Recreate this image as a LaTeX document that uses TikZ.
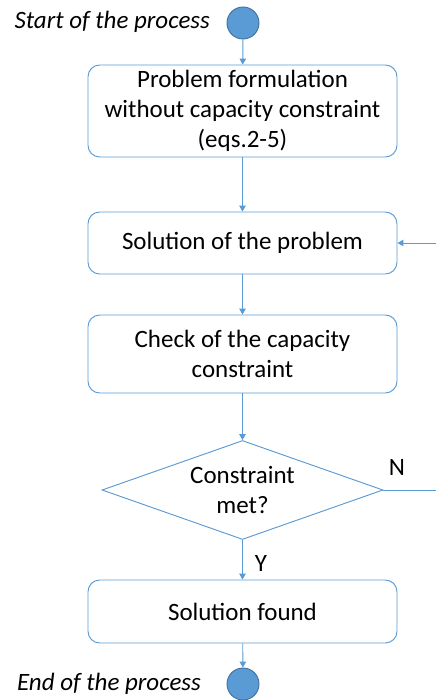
\documentclass[tikz,border=0pt]{standalone}
\usepackage{fontspec}
\setmainfont{Carlito}
\usetikzlibrary{positioning, arrows.meta, shapes.geometric}
\definecolor{FlowBlue}{HTML}{5B9BD5}
\definecolor{FlowEdge}{HTML}{41719C}
\tikzset{
    procbox/.style={rectangle, rounded corners=10pt, draw=FlowBlue, fill=white, align=center, minimum width=9.27cm, font=\fontsize{21.3}{25.6}\selectfont, line width=0.8pt},
    decision/.style={diamond, draw=FlowBlue, fill=white, align=center, minimum width=8.43cm, minimum height=2.97cm, aspect=2.84, inner sep=0pt, font=\fontsize{21.3}{25.6}\selectfont, line width=0.8pt},
    terminal/.style={circle, draw=FlowEdge, fill=FlowBlue, minimum size=0.96cm, inner sep=0pt, line width=0.8pt},
    flowarr/.style={-{Triangle[length=5pt, width=5.5pt]}, draw=FlowBlue, line width=0.8pt},
    flowline/.style={draw=FlowBlue, line width=0.8pt},
    termlbl/.style={font=\fontsize{21.3}{25.6}\selectfont\itshape},
    branchlbl/.style={font=\fontsize{21.3}{25.6}\selectfont}
}

\begin{document}
\begin{tikzpicture}[x=0.03cm, y=-0.03cm]
    \useasboundingbox (0,0) rectangle (436,700);

    % --- START ---
    \node[terminal] (start) at (243, 23) {};
    \node[termlbl, anchor=east] (startlbl) at (214, 22) {Start of the process};

    % --- PROCESS STEPS ---
    \node[procbox, minimum height=2.76cm] (formul) at (242.5, 111) {Problem formulation\\without capacity constraint\\(eqs.2-5)};
    \node[procbox, minimum height=1.86cm] (solve) at (242.5, 243) {Solution of the problem};
    \node[procbox, minimum height=2.34cm] (check) at (242.5, 354) {Check of the capacity\\constraint};

    % --- DECISION ---
    \node[decision] (met) at (242.5, 490) {Constraint\\met?};
    \node[branchlbl] (nlbl) at (397, 467) {N};
    \node[branchlbl] (ylbl) at (261, 563) {Y};

    % --- RESULT & END ---
    \node[procbox, minimum height=1.89cm] (found) at (242.5, 611.5) {Solution found};
    \node[terminal] (stop) at (243, 684) {};
    \node[termlbl, anchor=east] (stoplbl) at (205, 684) {End of the process};

    % --- CONNECTORS ---
    \draw[flowarr] (start) -- (formul);
    \draw[flowarr] (formul) -- (solve);
    \draw[flowarr] (solve) -- (check);
    \draw[flowarr] (check) -- (met);
    \draw[flowarr] (met) -- (found);
    \draw[flowarr] (found) -- (stop);

    % --- FEEDBACK (leaves the frame) ---
    \coordinate (fbout) at (436, 490);
    \coordinate (fbin) at (436, 243);
    \draw[flowline] (met.east) -- (fbout);
    \draw[flowarr] (fbin) -- (solve.east);
\end{tikzpicture}
\end{document}
